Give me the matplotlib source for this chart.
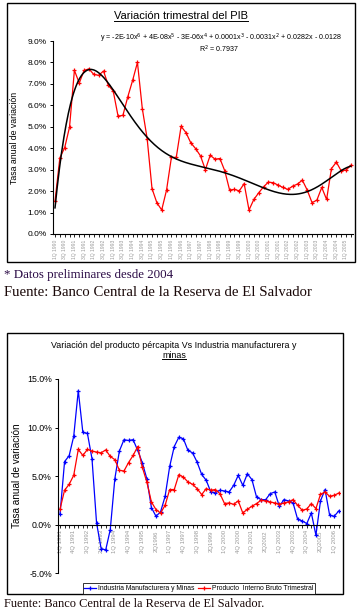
import numpy as np
import matplotlib
matplotlib.use("Agg")
import matplotlib.pyplot as plt
from matplotlib.lines import Line2D
from matplotlib.patches import Rectangle
from matplotlib.transforms import IdentityTransform

# ---------------- data ----------------
# Chart 1: quarterly GDP growth (%), 1Q 1990 .. 2Q 2005
pib_q1 = [1.53, 3.55, 4.03, 4.99, 7.63, 7.04, 7.63, 7.70, 7.44, 7.40,
          7.60, 6.93, 6.67, 5.50, 5.53, 6.39, 7.16, 8.00, 5.85, 4.45,
          2.12, 1.46, 1.12, 2.05, 3.57, 3.57, 5.02, 4.73, 4.25, 3.98,
          3.64, 3.00, 3.67, 3.49, 3.52, 2.95, 2.05, 2.08, 2.01, 2.35,
          1.12, 1.61, 1.92, 2.20, 2.42, 2.39, 2.28, 2.17, 2.08, 2.23,
          2.33, 2.51, 2.05, 1.46, 1.58, 2.17, 1.61, 3.05, 3.35, 2.95,
          2.98, 3.20]
labels1 = ["1Q 1990", "3Q 1990", "1Q 1991", "3Q 1991", "1Q 1992", "3Q 1992",
           "1Q 1993", "3Q 1993", "1Q 1994", "3Q 1994", "1Q 1995", "3Q 1995",
           "1Q 1996", "3Q 1996", "1Q 1997", "3Q 1997", "1Q 1998", "3Q 1998",
           "1Q 1999", "3Q 1999", "1Q 2000", "3Q 2000", "1Q 2001", "3Q 2001",
           "1Q 2002", "3Q 2002", "1Q 2003", "3Q 2003", "1Q 2004", "3Q 2004",
           "1Q 2005"]
yticks1 = [0, 1, 2, 3, 4, 5, 6, 7, 8, 9]

# Chart 2: 1Q 1991 .. 2Q 2006
industria = [1.08, 6.5, 7.1, 9.1, 13.8, 9.5, 9.4, 6.8, 0.18, -2.45,
             -2.6, -0.5, 4.74, 7.6, 8.75, 8.67, 8.75, 7.65, 6.4, 4.74,
             1.77, 0.87, 1.32, 2.92, 6.0, 8.05, 9.0, 8.85, 7.65, 7.4,
             6.45, 5.18, 4.57, 3.37, 3.3, 3.55, 3.47, 3.37, 4.05, 5.08,
             4.05, 5.25, 4.64, 2.86, 2.58, 2.58, 3.2, 3.37, 1.9, 2.58,
             2.45, 2.24, 0.56, 0.39, 0.12, 1.21, -1.08, 2.45, 3.62, 0.98,
             0.87, 1.42]
pib_q2 = [1.6, 3.55, 4.16, 5.08, 7.75, 7.13, 7.75, 7.58, 7.48, 7.4,
          7.7, 7.03, 6.7, 5.6, 5.53, 6.4, 7.13, 8.05, 5.93, 4.4,
          2.35, 1.56, 1.2, 2.0, 3.62, 3.62, 5.15, 4.9, 4.4, 4.16,
          3.72, 3.1, 3.72, 3.55, 3.62, 3.2, 2.18, 2.24, 2.1, 2.45,
          1.21, 1.59, 1.9, 2.18, 2.52, 2.45, 2.35, 2.24, 2.1, 2.24,
          2.35, 2.58, 2.0, 1.49, 1.62, 2.18, 1.66, 3.13, 3.37, 2.92,
          3.03, 3.26]
labels2 = ["1Q 1991", "4Q 1991", "3Q 1992", "2Q 1993", "1Q 1994", "4Q 1994",
           "3Q 1995", "2Q1996", "1Q 1997", "4Q 1997", "3Q 1998", "2Q1999",
           "1Q 2000", "4Q 2000", "3Q 2001", "2Q2002", "1Q 2003", "4Q 2003",
           "3Q 2004", "2Q2005", "1Q 2006"]
yticks2 = [-5, 0, 5, 10, 15]

series2_names = ["Industria Manufacturera y Minas", "Producto  Interno Bruto Trimestral"]

# ---------------- figure ----------------
W, H = 360, 614
DPI = 100
plt.rcParams['font.family'] = ['Liberation Sans', 'DejaVu Sans']
fig = plt.figure(figsize=(W / DPI, H / DPI), dpi=DPI)
fig.patch.set_facecolor('white')


def fx(px):
    return px / W


def fy(py):
    return 1 - py / H


def add_axes_px(x0, y0, x1, y1):
    return fig.add_axes([fx(x0), fy(y1), fx(x1) - fx(x0), (y1 - y0) / H])


def box_px(x0, y0, x1, y1, lw=1.0):
    r = Rectangle((fx(x0), fy(y1)), fx(x1) - fx(x0), (y1 - y0) / H,
                  transform=fig.transFigure, fill=False, edgecolor='black',
                  linewidth=lw)
    fig.add_artist(r)


# ---------- chart 1 ----------
box_px(7, 3, 355, 262)
ax1 = add_axes_px(53, 41, 353, 234)
n1 = len(pib_q1)
x1 = np.arange(n1)
y1 = np.array(pib_q1) / 100.0
ax1.plot(x1, y1, color='#ff0000', lw=0.9, marker='+', ms=3.5, mew=0.9)
# 6th-degree polynomial trend (Excel style, x = 1..n)
coef = np.polyfit(x1 + 1, y1, 6)
xf = np.linspace(1, n1, 400)
ax1.plot(xf - 1, np.polyval(coef, xf), color='black', lw=1.1)

ax1.set_xlim((53 - 55) / 4.85, (353 - 55) / 4.85)
ax1.set_ylim(0, 0.09)
for s in ['top', 'right']:
    ax1.spines[s].set_visible(False)
for s in ['left', 'bottom']:
    ax1.spines[s].set_linewidth(0.8)
ax1.set_yticks([v / 100 for v in yticks1])
ax1.set_yticklabels([f"{v:.1f}%" for v in yticks1], fontsize=6)
ax1.set_xticks(x1)
xl1 = [''] * n1
for k, lab in enumerate(labels1):
    xl1[2 * k] = lab
ax1.set_xticklabels(xl1, rotation=90, fontsize=3.6, color='#9a9a9a')
ax1.tick_params(axis='x', length=1.8, width=0.6, pad=2)
ax1.tick_params(axis='y', length=2.5, width=0.7, pad=2)
ax1.set_ylabel("Tasa anual de variación", fontsize=6.3)
ax1.yaxis.set_label_coords(-34 / 300, 0.5)
ax1.set_facecolor('none')

t1 = fig.text(fx(181), fy(16), "Variación trimestral del PIB", ha='center',
              va='center', fontsize=8)
fig.text(fx(221), fy(38),
         r"y = -2E-10x$^{6}$ + 4E-08x$^{5}$ - 3E-06x$^{4}$ + 0.0001x$^{3}$ - 0.0031x$^{2}$ + 0.0282x - 0.0128",
         ha='center', va='center', fontsize=5.1)
fig.text(fx(219), fy(49), r"R$^{2}$ = 0.7937", ha='center', va='center', fontsize=5.1)

fig.text(fx(4), fy(275), "* Datos preliminares desde 2004", ha='left', va='center',
         fontsize=9.3, family=['Liberation Serif', 'DejaVu Serif'], color='#2a0a45')
fig.text(fx(4), fy(292), "Fuente: Banco Central de la Reserva de El Salvador", ha='left',
         va='center', fontsize=10.6, family=['Liberation Serif', 'DejaVu Serif'],
         color='#1a0808')

# ---------- chart 2 ----------
box_px(7, 333, 343, 594)
ax2 = add_axes_px(58, 379, 340, 573.3)
n2 = len(industria)
x2 = np.arange(n2)
ax2.plot(x2, np.array(industria) / 100, color='#0000ff', lw=0.9, marker='+',
         ms=3.5, mew=0.9, label=series2_names[0])
ax2.plot(x2, np.array(pib_q2) / 100, color='#ff0000', lw=0.9, marker='+',
         ms=3.5, mew=0.9, label=series2_names[1])
ax2.set_xlim((58 - 60) / 4.57, (340 - 60) / 4.57)
ax2.set_ylim(-0.05, 0.15)
ax2.spines['bottom'].set_position(('data', 0))
for s in ['top', 'right']:
    ax2.spines[s].set_visible(False)
for s in ['left', 'bottom']:
    ax2.spines[s].set_linewidth(0.8)
ax2.set_yticks([v / 100 for v in yticks2])
ax2.set_yticklabels([f"{v:.1f}%" for v in yticks2], fontsize=6.3)
ax2.set_xticks(x2)
xl2 = [''] * n2
for k, lab in enumerate(labels2):
    xl2[3 * k] = lab
ax2.set_xticklabels(xl2, rotation=90, fontsize=4.3, color='#9a9a9a')
ax2.tick_params(axis='x', length=2, width=0.6, pad=2)
ax2.tick_params(axis='y', length=2.5, width=0.7, pad=2)
ax2.set_ylabel("Tasa anual de variación", fontsize=7.2)
ax2.yaxis.set_label_coords(-36 / 282, 0.5)
ax2.set_facecolor('none')

fig.text(fx(174), fy(345), "Variación del producto pércapita Vs Industria manufacturera y",
         ha='center', va='center', fontsize=6.4)
t2 = fig.text(fx(174), fy(355), "minas", ha='center', va='center', fontsize=6.4)

leg = fig.legend(loc='center', bbox_to_anchor=(fx(199), fy(588.5)), ncol=2,
                 fontsize=4.9, frameon=True, fancybox=False, edgecolor='black',
                 handlelength=1.7, handletextpad=0.3, columnspacing=0.6,
                 borderpad=0.25, borderaxespad=0)
leg.get_frame().set_linewidth(0.7)

fig.text(fx(4), fy(604), "Fuente: Banco Central de la Reserva de El Salvador.", ha='left',
         va='center', fontsize=8.9, family=['Liberation Serif', 'DejaVu Serif'],
         color='#1a0808')

# underlines for titles
fig.canvas.draw()
rend = fig.canvas.get_renderer()
for t in (t1, t2):
    bb = t.get_window_extent(rend)
    yy = bb.y0 + 0.5
    fig.add_artist(Line2D([bb.x0, bb.x1], [yy, yy], color='black', lw=0.7,
                          transform=IdentityTransform()))

fig.savefig("out.png", dpi=DPI, facecolor='white')
